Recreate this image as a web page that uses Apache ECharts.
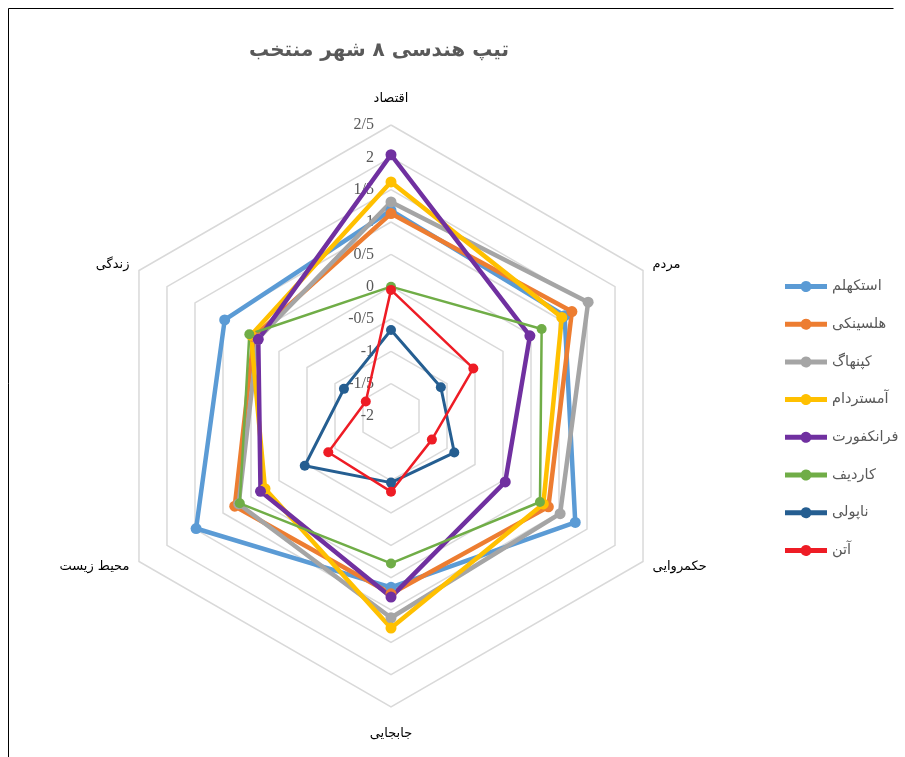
<!DOCTYPE html>
<html>
<head>
<meta charset="utf-8">
<script src="https://cdn.jsdelivr.net/npm/echarts@6/dist/echarts.min.js"></script>
<style>
html,body{margin:0;padding:0;background:#fff;}
#main{width:905px;height:757px;}
</style>
</head>
<body>
<div id="main"></div>
<script>
// indicators in clockwise visual order starting at top
const indicatorsCW = ['اقتصاد', 'مردم', 'حکمروایی', 'جابجایی', 'محیط زیست', 'زندگی'];
const cities = ['استکهلم', 'هلسینکی', 'کپنهاگ', 'آمستردام', 'فرانکفورت', 'کاردیف', 'ناپولی', 'آتن'];
const colors = ['#5B9BD5', '#ED7D31', '#A5A5A5', '#FFC000', '#7030A0', '#70AD47', '#255E91', '#EE1C25'];
const stockholm  = [1.18, 1.10, 1.29, 0.65, 1.48, 0.97];
const helsinki   = [1.13, 1.23, 0.81, 0.75, 0.79, 0.45];
const copenhagen = [1.31, 1.52, 1.02, 1.12, 0.72, 0.38];
const amsterdam  = [1.62, 1.05, 0.72, 1.28, 0.25, 0.50];
const frankfurt  = [2.04, 0.48, 0.04, 0.80, 0.33, 0.37];
const cardiff    = [0.00, 0.69, 0.66, 0.28, 0.70, 0.53];
const napoli     = [-0.67, -1.11, -0.87, -0.97, -0.46, -1.16];
const athens     = [-0.05, -0.53, -1.27, -0.83, -0.88, -1.55];
const axisMin = -2, axisMax = 2.5, axisSplits = 9;

const seriesValues = [stockholm, helsinki, copenhagen, amsterdam, frankfurt, cardiff, napoli, athens];
const lineWidths = [4.5, 4.5, 4.5, 4.5, 4.5, 2.5, 3, 2.5];

// ECharts places indicators counter-clockwise; reorder
const order = [0, 5, 4, 3, 2, 1];
const nameGaps = [20, 11, 11, 20, 11, 11];
const indicator = order.map((i, k) => {
  const o = { name: indicatorsCW[i], min: axisMin, max: axisMax, nameGap: nameGaps[i] };
  if (k === 0) {
    o.axisLabel = { show: true };
  }
  return o;
});

const legendIcon = 'path://M0,3.5 L16.1,3.5 A5.5,5.5 0 0,1 25.9,3.5 L42,3.5 L42,8.5 L25.9,8.5 A5.5,5.5 0 0,1 16.1,8.5 L0,8.5 Z';

const chart = echarts.init(document.getElementById('main'), null, { renderer: 'canvas' });
chart.setOption({
  backgroundColor: '#fff',
  animation: false,
  color: colors,
  graphic: [{
    type: 'polyline', silent: true, z: -1,
    shape: { points: [[8.5, 770], [8.5, 8.5], [893.5, 8.5]] },
    style: { fill: null, stroke: '#000', lineWidth: 1 }
  }],
  title: {
    text: 'تیپ هندسی ۸ شهر منتخب',
    left: 374, top: 36, textAlign: 'center',
    textStyle: { fontFamily: 'DejaVu Sans', fontSize: 20, fontWeight: 'bold', color: '#595959' }
  },
  legend: {
    orient: 'vertical',
    left: 780, top: 274,
    itemWidth: 42, itemHeight: 12, itemGap: 22.7,
    icon: legendIcon,
    data: cities,
    textStyle: { fontFamily: 'DejaVu Sans', fontSize: 14.5, color: '#595959' }
  },
  radar: {
    center: [391, 416],
    radius: 291,
    startAngle: 90,
    splitNumber: axisSplits,
    shape: 'polygon',
    indicator: indicator,
    axisName: { color: '#000', fontFamily: 'DejaVu Sans', fontSize: 13 },
    nameGap: 11,
    axisLine: { show: false },
    axisTick: { show: false },
    splitArea: { show: false },
    splitLine: { lineStyle: { color: '#D9D9D9', width: 1.5 } },
    axisLabel: {
      show: false,
      margin: 17,
      color: '#595959',
      fontFamily: 'Liberation Serif',
      fontSize: 16,
      formatter: v => String(Math.round(v * 10) / 10).replace('.', '/')
    }
  },
  series: cities.map((c, i) => ({
    type: 'radar',
    name: c,
    symbol: 'circle',
    symbolSize: i >= 5 ? 10 : 11,
    lineStyle: { width: lineWidths[i], color: colors[i] },
    itemStyle: { color: colors[i] },
    data: [{ name: c, value: order.map(k => seriesValues[i][k]) }]
  }))
});
</script>
</body>
</html>
